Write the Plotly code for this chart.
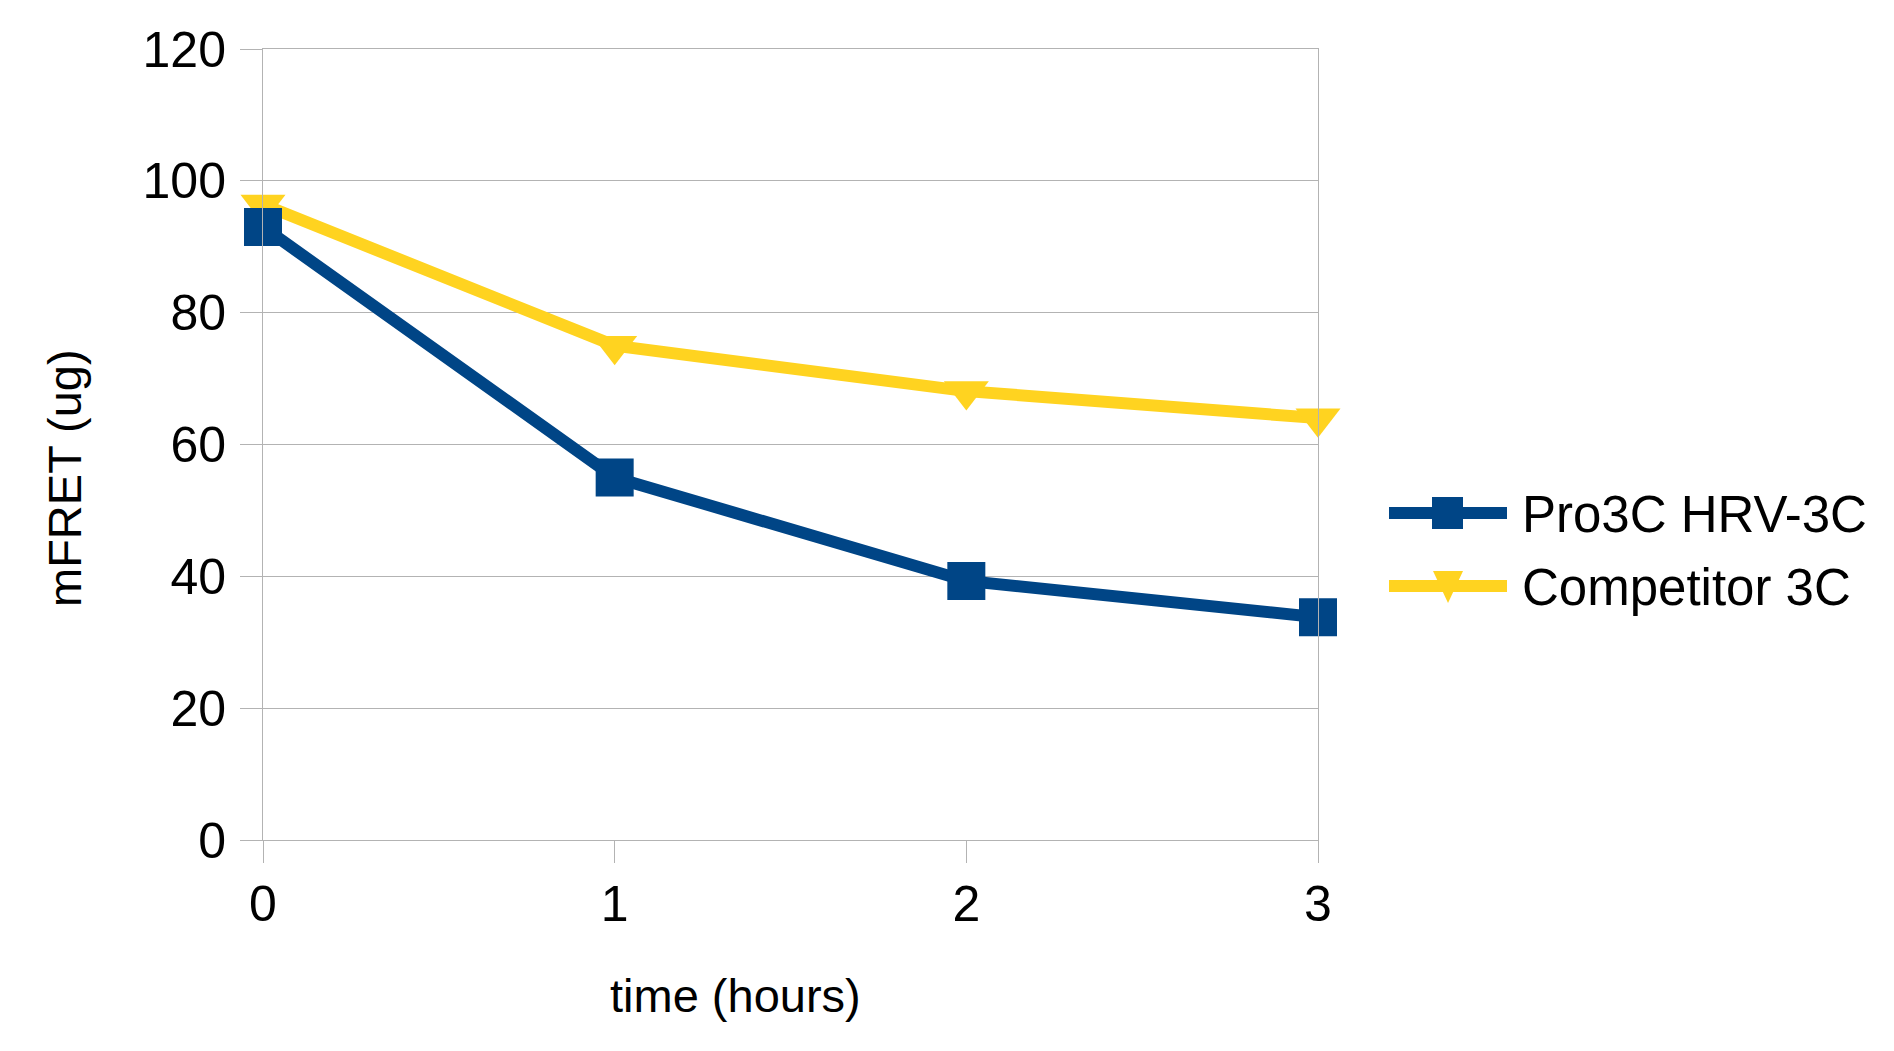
import plotly.graph_objects as go

# datos
horas = [0, 1, 2, 3]
pro3c = [93, 55, 39.3, 33.8]
competidor = [96.4, 75, 68.1, 64]
nombres = ["Pro3C HRV-3C", "Competitor 3C"]
y_ticks = [0, 20, 40, 60, 80, 100, 120]

AZUL = "#004586"
AMARILLO = "#ffd320"
GRIS = "#b3b3b3"
FUENTE = "Liberation Sans"

# la página tiene 8px de margen en el body
OFF = 8
W, H = 1894 - OFF, 1051 - OFF
PL, PR, PT, PB = 263, 1318, 49, 840


# pixeles de pantalla -> coordenadas paper (para leyenda y títulos)
def px(x):
    return (x - PL) / (PR - PL)


def py(y):
    return (PB - y) / (PB - PT)


fig = go.Figure()

fig.add_trace(go.Scatter(x=horas, y=competidor, name=nombres[1],
                         mode="lines+markers", cliponaxis=False,
                         line=dict(color=AMARILLO, width=12),
                         marker=dict(symbol="triangle-down", size=39, color=AMARILLO)))
fig.add_trace(go.Scatter(x=horas, y=pro3c, name=nombres[0],
                         mode="lines+markers", cliponaxis=False,
                         line=dict(color=AZUL, width=12),
                         marker=dict(symbol="square", size=38, color=AZUL)))

fig.update_xaxes(range=[0, 3], tickvals=horas, showgrid=False, zeroline=False,
                 ticks="outside", ticklen=22, tickcolor=GRIS, tickwidth=1,
                 showline=True, mirror=True, linecolor=GRIS, linewidth=1,
                 ticklabelstandoff=-2,
                 tickfont=dict(family=FUENTE, size=50, color="black"))
fig.update_yaxes(range=[0, 120], tickvals=y_ticks, showgrid=True, gridcolor=GRIS,
                 gridwidth=1, zeroline=False,
                 ticks="outside", ticklen=22, tickcolor=GRIS, tickwidth=1,
                 showline=True, mirror=True, linecolor=GRIS, linewidth=1,
                 ticklabelstandoff=4,
                 tickfont=dict(family=FUENTE, size=50, color="black"))

# leyenda dibujada a mano (línea larga con marcador al centro)
filas = [(513, AZUL), (586, AMARILLO)]
formas = []
for yy, col in filas:
    formas.append(dict(type="line", xref="paper", yref="paper",
                       x0=px(1389), x1=px(1507), y0=py(yy), y1=py(yy),
                       line=dict(color=col, width=12)))
formas.append(dict(type="rect", xref="paper", yref="paper",
                   x0=px(1432), x1=px(1463), y0=py(529), y1=py(497),
                   fillcolor=AZUL, line=dict(width=0)))
tri = "M %f %f L %f %f L %f %f Z" % (px(1433), py(571), px(1463), py(571),
                                    px(1448), py(603))
formas.append(dict(type="path", xref="paper", yref="paper", path=tri,
                   fillcolor=AMARILLO, line=dict(width=0)))

anot = []
for (yy, col), nom in zip(filas, nombres):
    anot.append(dict(text=nom, xref="paper", yref="paper", x=px(1520), y=py(yy + 1),
                     xanchor="left", yanchor="middle", showarrow=False,
                     font=dict(family=FUENTE, size=51, color="black")))
anot.append(dict(text="time (hours)", xref="paper", yref="paper",
                 x=px(735), y=py(995), xanchor="center", yanchor="middle",
                 showarrow=False, font=dict(family=FUENTE, size=47, color="black")))
anot.append(dict(text="mFRET (ug)", xref="paper", yref="paper",
                 x=px(64), y=py(478), xanchor="center", yanchor="middle",
                 textangle=-90, showarrow=False,
                 font=dict(family=FUENTE, size=47, color="black")))

fig.update_layout(width=W, height=H, showlegend=False,
                  margin=dict(l=PL - OFF, r=W - (PR - OFF), t=PT - OFF,
                              b=H - (PB - OFF)),
                  plot_bgcolor="white", paper_bgcolor="white",
                  shapes=formas, annotations=anot,
                  font=dict(family=FUENTE, color="black"))

fig.write_html("out.html")
